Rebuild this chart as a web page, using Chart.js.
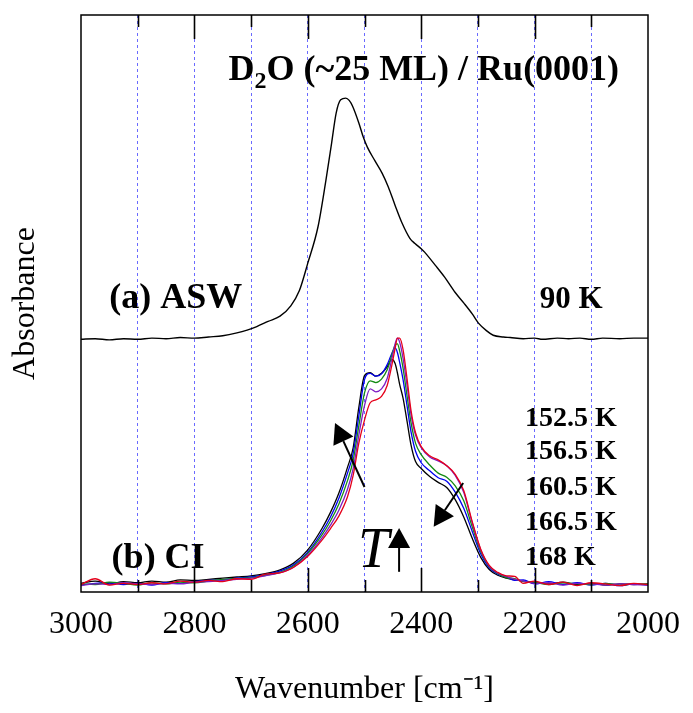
<!DOCTYPE html>
<html><head><meta charset="utf-8">
<script src="https://cdn.jsdelivr.net/npm/chart.js@4.4.1/dist/chart.umd.min.js"></script>
<style>html,body{margin:0;padding:0;background:#fff;} #wrap{width:693px;height:713px;position:relative;}</style>
</head><body><div id="wrap"><canvas id="c"></canvas></div>
<script>
// ---- data ----
const wavenumbersCI = [3000,2975,2950,2925,2900,2875,2850,2825,2800,2775,2750,2725,2700,2675,2650,2625,2600,2575,2560,2545,2530,2520,2510,2500,2490,2480,2470,2460,2452,2446,2442,2438,2432,2425,2418,2410,2400,2385,2370,2355,2340,2325,2310,2295,2280,2265,2250,2235,2220,2200,2175,2150,2125,2100,2075,2050,2025,2000];
const ci152_5 = [1.3,2.3,1.2,1.5,1.3,1.6,1.4,1.9,1.7,2.0,1.8,2.3,2.2,3.1,3.3,4.3,6.2,9.0,11.0,13.2,16.5,20.2,25.8,29.8,32.8,33.3,33.9,35.8,39.2,42.2,44.0,44.0,42.0,37.0,31.5,27.6,25.2,23.6,22.9,21.9,20.4,17.6,12.2,7.4,4.6,3.4,2.8,2.7,1.5,1.9,1.3,1.7,1.1,1.6,1.4,1.1,1.5,1.3];
const ci156_5 = [1.1,1.4,1.3,1.6,1.4,1.3,1.5,1.4,1.7,1.8,2.0,2.2,2.4,2.8,3.3,4.3,6.4,9.4,11.6,14.2,17.8,21.4,27.2,32.3,35.2,34.7,35.2,37.0,40.3,43.0,44.0,43.3,40.5,35.8,30.8,27.2,25.0,23.4,22.7,21.9,20.2,17.3,12.0,7.3,4.5,3.3,2.7,2.2,1.9,1.5,1.6,1.2,1.5,1.4,1.2,1.4,1.3,1.2];
const ci160_5 = [1.4,1.3,1.7,1.5,1.2,1.6,1.4,1.7,1.6,1.9,2.2,2.3,2.5,2.9,3.4,4.5,6.7,9.9,12.3,15.3,19.3,22.8,28.8,34.5,36.6,36.3,36.9,38.5,41.0,42.8,43.0,41.8,38.8,34.0,29.4,25.8,23.8,22.0,20.6,19.9,18.4,15.8,11.3,7.0,4.4,3.2,2.5,2.3,1.8,1.7,1.3,1.6,1.4,1.3,1.5,1.2,1.4,1.3];
const ci166_5 = [1.2,1.5,1.6,1.3,1.5,1.2,1.6,1.5,1.8,2.0,2.1,2.4,2.6,3.0,3.6,4.7,6.9,10.4,13.0,16.3,20.6,24.0,30.5,36.8,37.9,37.4,37.8,39.4,41.3,42.3,41.5,39.8,36.8,32.3,27.8,24.4,22.4,21.0,19.8,19.2,17.3,14.5,10.5,6.6,4.2,3.1,2.6,2.0,2.1,1.4,1.8,1.3,1.6,1.2,1.5,1.1,1.4,1.2];
const ci168 = [1.5,1.9,1.4,1.8,1.6,1.9,1.7,2.1,2.0,2.2,2.4,2.6,2.8,3.2,3.8,5.0,7.3,11.0,13.8,17.2,21.6,25.0,32.0,37.5,38.0,37.4,37.9,39.0,40.3,39.6,38.0,36.0,33.6,29.6,25.5,22.6,21.4,20.0,19.0,18.1,16.0,13.0,9.3,6.0,3.9,2.9,2.4,2.1,1.9,1.6,1.4,1.7,1.3,1.5,1.2,1.4,1.3,1.4];
const ciLabels = ['152.5 K','156.5 K','160.5 K','166.5 K','168 K'];

const wavenumbersASW = [3000,2975,2950,2925,2900,2875,2850,2825,2800,2775,2750,2725,2707,2690,2670,2649,2630,2615,2600,2582,2568,2558,2550,2542,2533,2527,2521,2510,2502,2495,2482,2469,2458,2446,2434,2420,2411,2400,2394,2375,2359,2340,2325,2310,2299,2285,2273,2255,2243,2220,2200,2186,2160,2140,2120,2100,2080,2050,2025,2000];
const asw90 = [43.8,43.9,43.7,43.9,43.8,44.0,43.9,44.1,44.0,44.2,44.4,44.9,45.4,46.0,46.9,47.8,49.6,52.2,57.0,63.3,71.4,77.8,83.0,85.3,85.6,85.2,84.2,81.3,78.8,77.1,74.8,72.6,70.2,67.0,64.0,61.3,60.4,59.5,58.9,56.6,54.6,51.9,50.1,48.2,46.6,45.3,44.5,44.2,44.1,43.9,44.0,43.8,44.0,43.9,44.0,43.8,44.0,43.9,44.0,44.0];
const aswLabel = '90 K';

const xTickLabels = [3000,2800,2600,2400,2200,2000];
const xMinorTicks = [2900,2700,2500,2300,2100];

// ---- chart ----
const serif = "'Liberation Serif','Times New Roman',serif";
const pts = (xs, ys) => xs.map((x, i) => ({x: x, y: ys[i]}));
const ciSeries = [ci152_5, ci156_5, ci160_5, ci166_5, ci168];
const ciColors = ['#e5001a', '#7d1cc4', '#138a13', '#0000f0', '#000000'];

const datasets = ciSeries.map((s, i) => ({
  label: ciLabels[i], data: pts(wavenumbersCI, s), borderColor: ciColors[i],
  borderWidth: 1.3, pointRadius: 0, cubicInterpolationMode: 'monotone', fill: false
}));
datasets.push({label: aswLabel, data: pts(wavenumbersASW, asw90), borderColor: '#000',
  borderWidth: 1.4, pointRadius: 0, cubicInterpolationMode: 'monotone', fill: false});

function arrow(ctx, x0, y0, x1, y1, headLen, headHalf) {
  const dx = x1 - x0, dy = y1 - y0, L = Math.hypot(dx, dy), ux = dx / L, uy = dy / L;
  const bx = x1 - ux * headLen, by = y1 - uy * headLen;
  ctx.beginPath(); ctx.moveTo(x0, y0); ctx.lineTo(bx, by); ctx.lineWidth = 2; ctx.stroke();
  ctx.beginPath(); ctx.moveTo(x1, y1);
  ctx.lineTo(bx - uy * headHalf, by + ux * headHalf);
  ctx.lineTo(bx + uy * headHalf, by - ux * headHalf);
  ctx.closePath(); ctx.fill();
}

const annot = {
  id: 'annot',
  afterDatasetsDraw(chart) {
    const {ctx, scales: {x, y}} = chart;
    const X = v => x.getPixelForValue(v), Y = v => y.getPixelForValue(v);
    ctx.save();
    ctx.setLineDash([]);
    ctx.fillStyle = '#000'; ctx.strokeStyle = '#000';
    ctx.textBaseline = 'alphabetic'; ctx.textAlign = 'left';
    // title
    let tx = X(2740), ty = Y(88.7);
    ctx.font = 'bold 36px ' + serif; ctx.fillText('D', tx, ty); tx += ctx.measureText('D').width;
    ctx.font = 'bold 24px ' + serif; ctx.fillText('2', tx, ty + 8); tx += ctx.measureText('2').width;
    ctx.font = 'bold 36px ' + serif; ctx.fillText('O (~25 ML) / Ru(0001)', tx, ty);
    // panel labels
    ctx.font = 'bold 36px ' + serif;
    ctx.fillText('(a) ASW', X(2950), Y(49.2));
    ctx.fillText('(b) CI', X(2946), Y(4.2));
    ctx.font = 'bold 31px ' + serif;
    ctx.fillText(aswLabel, X(2191), Y(49.2));
    ctx.font = 'bold 28px ' + serif;
    const tempY = [28.8, 23.1, 16.8, 10.7, 4.7];
    ciLabels.forEach((l, i) => ctx.fillText(l, X(2217), Y(tempY[i])));
    // T with arrow
    ctx.font = 'italic 56px ' + serif; ctx.textAlign = 'center';
    ctx.fillText('T', X(2484), Y(4.3));
    arrow(ctx, X(2439), Y(3.5), X(2439), Y(11.1), 20, 11);
    // trend arrows
    arrow(ctx, X(2500), Y(18.2), X(2552), Y(29.3), 20, 11);
    arrow(ctx, X(2326), Y(18.9), X(2378), Y(11.3), 20, 11);
    ctx.restore();
  },
  afterDraw(chart) {
    const {ctx, chartArea: a, scales: {x}} = chart;
    ctx.save();
    ctx.setLineDash([]);
    ctx.strokeStyle = '#000'; ctx.lineWidth = 1.5;
    ctx.strokeRect(a.left, a.top, a.right - a.left, a.bottom - a.top);
    const drawTick = (v, len) => {
      const px = Math.round(x.getPixelForValue(v)) + 0.5;
      ctx.beginPath();
      ctx.moveTo(px, a.top); ctx.lineTo(px, a.top + len);
      ctx.moveTo(px, a.bottom); ctx.lineTo(px, a.bottom - len);
      ctx.stroke();
    };
    ctx.lineWidth = 1.6;
    xTickLabels.forEach(v => { if (v !== 2000 && v !== 3000) drawTick(v, 24); });
    xMinorTicks.forEach(v => drawTick(v, 12));
    ctx.restore();
  }
};

new Chart(document.getElementById('c'), {
  type: 'line',
  data: {datasets},
  options: {
    responsive: true, maintainAspectRatio: false, animation: false, devicePixelRatio: 1,
    layout: {padding: {top: 15, right: 36, left: 0, bottom: 0}},
    plugins: {legend: {display: false}, tooltip: {enabled: false}},
    scales: {
      x: {
        type: 'linear', reverse: true, min: 2000, max: 3000,
        afterFit(s) { s.height = 121; },
        ticks: {stepSize: 100, autoSkip: false, maxRotation: 0, padding: 13, color: '#000',
          font: {family: serif, size: 32},
          callback: v => xTickLabels.includes(v) ? String(v) : ''},
        grid: {drawTicks: false, lineWidth: 1,
          color: c => (c.tick && (c.tick.value === 2000 || c.tick.value === 3000)) ? 'rgba(0,0,0,0)' : '#6a6aff'},
        border: {display: false, dash: [3, 3]},
        title: {display: true, text: 'Wavenumber [cm\u207B\u00B9]', color: '#000',
          font: {family: serif, size: 32}, padding: {top: 0, bottom: 4}}
      },
      y: {
        min: 0, max: 100,
        afterFit(s) { s.width = 81; },
        ticks: {display: false}, grid: {display: false}, border: {display: false},
        title: {display: true, text: 'Absorbance', color: '#000',
          font: {family: serif, size: 32}, padding: {top: 6, bottom: 0}}
      }
    }
  },
  plugins: [annot]
});
</script></body></html>
